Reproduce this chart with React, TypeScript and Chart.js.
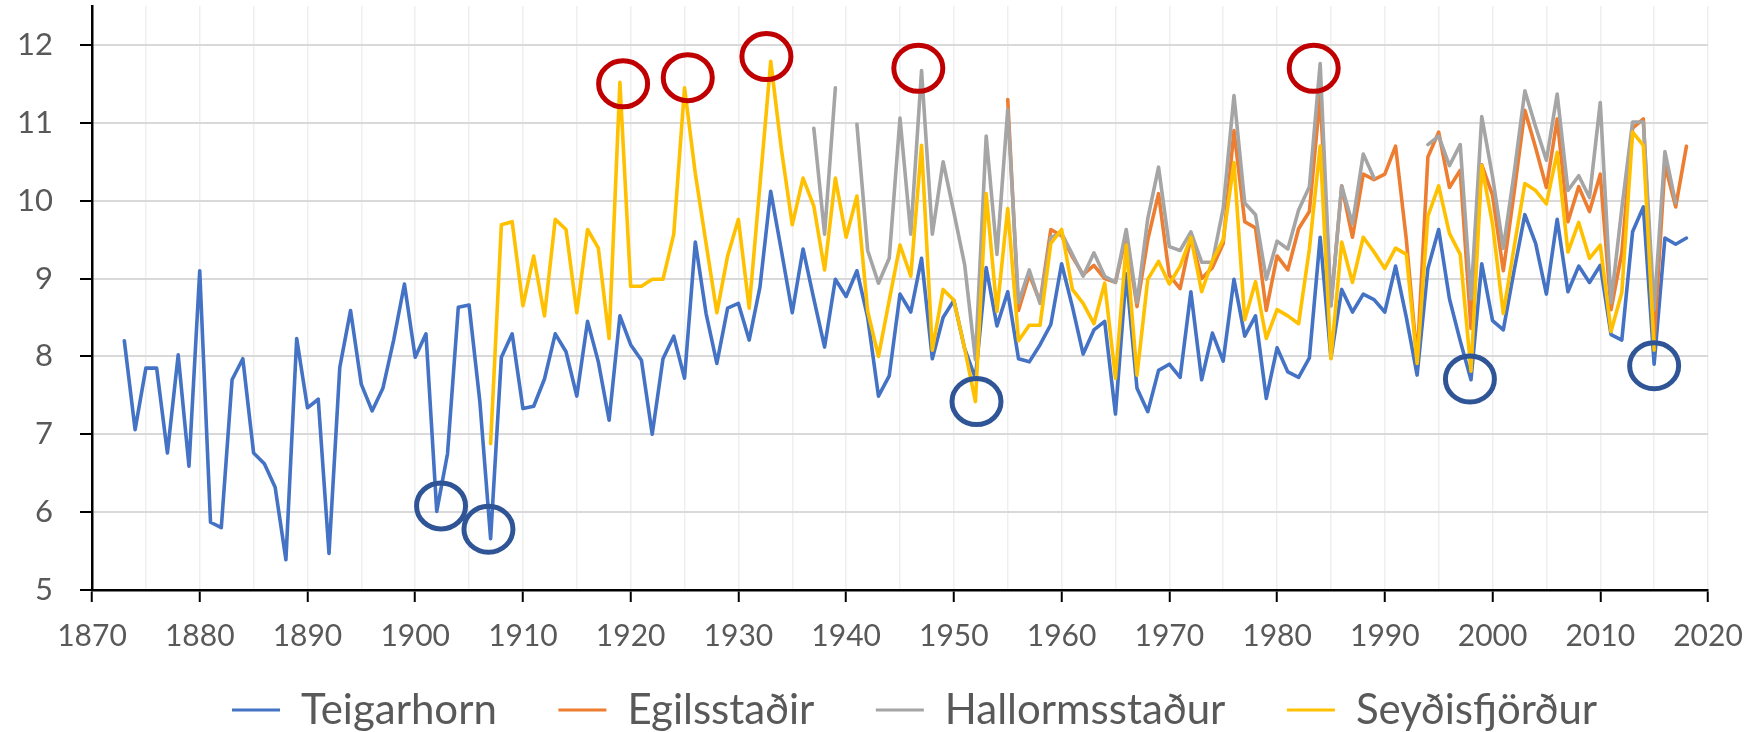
import React, { useEffect, useRef } from 'react';
import { Chart, registerables } from 'chart.js';

Chart.register(...registerables);

const W = 1749;
const H = 732;
const FONT = "Lato, 'Open Sans', sans-serif";

// ---- data (annual mean temperature, °C) ----
const teigarhornFrom = 1873;
const teigarhorn = [
  8.2, 7.06, 7.85, 7.85, 6.76, 8.02, 6.59,
  9.1, 5.87, 5.8, 7.7, 7.97, 6.76, 6.62, 6.32, 5.39, 8.23,
  7.34, 7.45, 5.47, 7.86, 8.59, 7.64, 7.3, 7.59, 8.21, 8.93,
  7.99, 8.29, 6.01, 6.75, 8.63, 8.66, 7.42, 5.66, 7.99, 8.29,
  7.33, 7.36, 7.71, 8.29, 8.06, 7.49, 8.45, 7.93, 7.18, 8.52,
  8.15, 7.95, 7.0, 7.97, 8.26, 7.72, 9.47, 8.55, 7.91, 8.62,
  8.68, 8.21, 8.89, 10.12, 9.35, 8.56, 9.38, 8.74, 8.12, 8.99,
  8.77, 9.1, 8.5, 7.49, 7.75, 8.8, 8.57, 9.26, 7.97, 8.5,
  8.72, 8.1, 7.72, 9.14, 8.39, 8.83, 7.97, 7.93, 8.15, 8.41,
  9.19, 8.64, 8.03, 8.34, 8.45, 7.26, 9.06, 7.59, 7.29, 7.82,
  7.9, 7.73, 8.83, 7.7, 8.3, 7.94, 8.99, 8.26, 8.52, 7.46,
  8.11, 7.8, 7.73, 7.98, 9.53, 7.98, 8.86, 8.57, 8.8, 8.73,
  8.57, 9.16, 8.5, 7.76, 9.13, 9.63, 8.74, 8.2, 7.7, 9.19,
  8.46, 8.34, 9.1, 9.82, 9.45, 8.8, 9.76, 8.83, 9.16, 8.95,
  9.17, 8.28, 8.21, 9.6, 9.92, 7.9, 9.52, 9.44, 9.52,
];

const egilsstadirFrom = 1955;
const egilsstadir = [
  11.3, 8.59, 9.05, 8.7, 9.63,
  9.55, 9.28, 9.05, 9.17, 9.0, 8.95, 9.55, 8.64, 9.5, 10.09,
  9.04, 8.87, 9.53, 9.0, 9.14, 9.45, 10.9, 9.73, 9.65, 8.59,
  9.29, 9.11, 9.64, 9.86, 11.35, 8.65, 10.19, 9.53, 10.34, 10.27,
  10.34, 10.7, 9.5, 7.95, 10.56, 10.88, 10.17, 10.39, 8.36, 10.46,
  10.07, 9.1, 10.1, 11.16, 10.68, 10.17, 11.05, 9.73, 10.18, 9.86,
  10.34, 8.6, 9.33, 10.93, 11.05, 8.2, 10.46, 9.92, 10.7,
];

const hallormsstadurFrom = 1937;
const hallormsstadur = [
  10.93, 9.57, 11.45,
  null, 10.98, 9.36, 8.94, 9.26, 11.06, 9.57, 11.67, 9.57, 10.5,
  9.85, 9.18, 7.96, 10.83, 9.31, 11.17, 8.69, 9.11, 8.68, 9.53,
  9.58, 9.31, 9.03, 9.33, 9.03, 8.95, 9.63, 8.69, 9.77, 10.43,
  9.41, 9.36, 9.6, 9.21, 9.21, 9.9, 11.35, 9.97, 9.82, 8.99,
  9.48, 9.38, 9.88, 10.18, 11.76, 8.65, 10.19, 9.7, 10.6, 10.29,
  null, null, null, null, 10.72, 10.83, 10.45, 10.72, 8.74, 11.08,
  10.31, 9.39, 10.35, 11.41, 10.95, 10.52, 11.37, 10.13, 10.32, 10.04,
  11.26, 8.69, 9.9, 11.01, 11.01, 8.6, 10.63, 9.97,
];

const seydisfjordurFrom = 1907;
const seydisfjordur = [
  6.88, 9.69, 9.73,
  8.65, 9.29, 8.52, 9.76, 9.63, 8.56, 9.63, 9.39, 8.23, 11.52,
  8.9, 8.9, 8.99, 8.99, 9.57, 11.45, 10.35, 9.45, 8.56, 9.29,
  9.76, 8.62, 10.2, 11.79, 10.65, 9.69, 10.29, 9.93, 9.11, 10.29,
  9.53, 10.06, 8.58, 8.0, 8.72, 9.43, 9.03, 10.71, 8.08, 8.86,
  8.72, 8.1, 7.42, 10.09, 8.58, 9.9, 8.2, 8.4, 8.4, 9.45,
  9.63, 8.86, 8.68, 8.42, 8.94, 7.72, 9.43, 7.76, 8.99, 9.22,
  8.93, 9.16, 9.53, 8.83, 9.23, 9.5, 10.49, 8.47, 8.96, 8.23,
  8.6, 8.52, 8.42, 9.38, 10.7, 7.97, 9.47, 8.95, 9.53, 9.34,
  9.13, 9.39, 9.31, 7.91, 9.8, 10.19, 9.58, 9.31, 7.81, 10.45,
  9.7, 8.55, 9.4, 10.22, 10.13, 9.96, 10.62, 9.34, 9.72, 9.26,
  9.43, 8.32, 8.82, 10.88, 10.71, 8.08,
];

// highlighted extremes (year, value) drawn as rings
const warmYears = [
  { year: 1919.3, value: 11.5 },
  { year: 1925.3, value: 11.58 },
  { year: 1932.6, value: 11.85 },
  { year: 1946.7, value: 11.7 },
  { year: 1983.4, value: 11.7 },
];
const coldYears = [
  { year: 1902.4, value: 6.08 },
  { year: 1906.8, value: 5.78 },
  { year: 1952.1, value: 7.42 },
  { year: 1997.9, value: 7.71 },
  { year: 2015.0, value: 7.88 },
];

const xMin = 1870;
const xMax = 2020;
const yMin = 5;
const yMax = 12.5;

// ---- layout constants ----
const PLOT_LEFT = 92;
const PLOT_BOTTOM = 590;
const LEGEND_X = 232;
const LEGEND_Y = 710;
const LEGEND_FS = 42;
const LEGEND_PAD = 61.5;
const LEGEND_BOX_H = 72;

const toPoints = (from: number, vals: (number | null)[]) =>
  vals.map((v, i) => ({ x: from + i, y: v }));

const ringPlugin = {
  id: 'rings',
  afterDatasetsDraw(chart: any) {
    const { ctx, scales } = chart;
    const draw = (list: { year: number; value: number }[], color: string) => {
      list.forEach((c) => {
        ctx.beginPath();
        ctx.ellipse(
          scales.x.getPixelForValue(c.year),
          scales.y.getPixelForValue(c.value),
          24.5,
          23,
          0,
          0,
          Math.PI * 2
        );
        ctx.strokeStyle = color;
        ctx.lineWidth = 5;
        ctx.stroke();
      });
    };
    ctx.save();
    draw(warmYears, '#C00000');
    draw(coldYears, '#2F5597');
    ctx.restore();
  },
};

const legendPlacer = {
  id: 'legendPlacer',
  afterLayout(chart: any) {
    const lg = chart.legend;
    if (!lg) return;
    lg.left = LEGEND_X - LEGEND_PAD;
    lg.right = W;
    lg.top = LEGEND_Y - LEGEND_PAD - LEGEND_FS / 2;
    lg.bottom = H;
  },
};

export default function App() {
  const ref = useRef<HTMLCanvasElement>(null);

  useEffect(() => {
    if (!ref.current) return;
    const line = (label: string, from: number, vals: (number | null)[], color: string, order: number) => ({
      label,
      data: toPoints(from, vals),
      borderColor: color,
      backgroundColor: color,
      borderWidth: 3.6,
      pointRadius: 0,
      pointHoverRadius: 0,
      tension: 0,
      spanGaps: false,
      borderJoinStyle: 'round' as const,
      borderCapStyle: 'round' as const,
      order,
    });

    const chart = new Chart(ref.current, {
      type: 'line',
      data: {
        datasets: [
          line('Teigarhorn', teigarhornFrom, teigarhorn, '#4472C4', 4),
          line('Egilsstaðir', egilsstadirFrom, egilsstadir, '#ED7D31', 3),
          line('Hallormsstaður', hallormsstadurFrom, hallormsstadur, '#A5A5A5', 2),
          line('Seyðisfjörður', seydisfjordurFrom, seydisfjordur, '#FFC000', 1),
        ],
      },
      options: {
        responsive: false,
        animation: false,
        devicePixelRatio: 1,
        events: [],
        layout: { padding: { top: 6, left: 0, right: 41, bottom: 0 } },
        plugins: {
          tooltip: { enabled: false },
          legend: {
            position: 'bottom',
            align: 'start',
            maxHeight: LEGEND_BOX_H,
            labels: {
              boxWidth: 48,
              boxHeight: 3,
              padding: LEGEND_PAD,
              color: '#595959',
              font: { family: FONT, size: LEGEND_FS },
              sort: (a: any, b: any) => a.datasetIndex - b.datasetIndex,
              generateLabels: (c: any) => {
                const items = (Chart.defaults.plugins.legend.labels as any).generateLabels(c);
                items.forEach((it: any) => {
                  it.lineWidth = 0;
                  it.fillStyle = it.strokeStyle;
                });
                return items;
              },
            },
          },
        },
        scales: {
          x: {
            type: 'linear',
            min: xMin,
            max: xMax,
            afterFit: (s: any) => {
              s.paddingLeft = 0;
              s.paddingRight = 0;
              const lh = s.chart.legend ? s.chart.legend.height : 0;
              s.height = H - PLOT_BOTTOM - lh;
            },
            ticks: {
              stepSize: 5,
              autoSkip: false,
              maxRotation: 0,
              padding: 16,
              color: '#595959',
              font: { family: FONT, size: 30 },
              callback: (v: any) => (Math.round(Number(v)) % 10 === 0 ? String(Math.round(Number(v))) : ''),
            },
            grid: {
              color: '#EFEFEF',
              lineWidth: 1.5,
              drawTicks: true,
              tickLength: 12,
              tickWidth: 2,
              tickColor: (ctx: any) =>
                ctx.tick && Math.round(ctx.tick.value) % 10 === 0 ? '#000000' : 'rgba(0,0,0,0)',
            },
            border: { color: '#000000', width: 2.5 },
          },
          y: {
            type: 'linear',
            min: yMin,
            max: yMax,
            afterBuildTicks: (s: any) => {
              s.ticks = s.ticks.filter((t: any) => Number.isInteger(t.value));
            },
            afterFit: (s: any) => {
              s.width = PLOT_LEFT;
              s.paddingTop = 0;
              s.paddingBottom = 0;
            },
            ticks: {
              stepSize: 1,
              padding: 27,
              color: '#595959',
              font: { family: FONT, size: 31 },
            },
            grid: {
              color: '#D9D9D9',
              lineWidth: 2,
              tickLength: 12,
              tickWidth: 2,
              tickColor: '#000000',
            },
            border: { color: '#000000', width: 2.5 },
          },
        },
      },
      plugins: [ringPlugin, legendPlacer],
    } as any);

    return () => chart.destroy();
  }, []);

  return (
    <div style={{ position: 'absolute', left: 0, top: 0, width: W, height: H, background: '#ffffff' }}>
      <canvas ref={ref} width={W} height={H} style={{ display: 'block', width: W, height: H }} />
    </div>
  );
}
